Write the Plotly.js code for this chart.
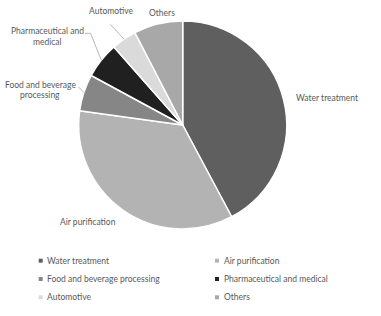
<!DOCTYPE html>
<html>
<head>
<meta charset="utf-8">
<script src="https://cdn.plot.ly/plotly-3.0.1.min.js"></script>
<style>html,body{margin:0;padding:0;background:#fff;}#chart{width:381px;height:316px;}</style>
</head>
<body>
<div id="chart"></div>
<script>
// ---- data ----
const categories = ["Water treatment", "Air purification", "Food and beverage processing", "Pharmaceutical and medical", "Automotive", "Others"];
const sliceLabelLines = [["Water treatment"], ["Air purification"], ["Food and beverage", "processing"], ["Pharmaceutical and", "medical"], ["Automotive"], ["Others"]];
const shares = [42.2, 35.0, 5.7, 5.6, 3.9, 7.6];

// ---- style ----
const colors = ["#5f5f5f", "#b3b3b3", "#868686", "#202020", "#dadada", "#a8a8a8"];
const W = 381, H = 316;
const CX = 182.7, CY = 125, R = 104;
const FONT = "Lato, 'Open Sans', sans-serif";
const TXT = "#595959";
const LINE_H = 10.8;
// label offsets from slice-edge midpoint (px), anchors, optional leader line points (relative to edge)
const labelStyle = [
  {dx: 10.4, dy: -1.8, anchor: "left", line: null},
  {dx: -35, dy: 12, anchor: "center", line: null},
  {dx: -43.4, dy: -2.6, anchor: "center", line: [[-5.4, -5.6]]},
  {dx: -53.8, dy: -23.6, anchor: "center", line: [[-16.3, -26.9], [-10.8, -26.9]]},
  {dx: -13, dy: -28, anchor: "center", line: [[-13.5, -14.7]]},
  {dx: 3.9, dy: -10.6, anchor: "center", line: null}
];

const px = x => x / W;
const py = y => 1 - y / H;

const total = shares.reduce((a, b) => a + b, 0);
const annotations = [];
const shapes = [];
let cum = 0;
shares.forEach((v, i) => {
  const mid = (cum + v / 2) / total * 2 * Math.PI;
  cum += v;
  const ex = CX + R * Math.sin(mid);
  const ey = CY - R * Math.cos(mid);
  const st = labelStyle[i];
  const lines = sliceLabelLines[i];
  lines.forEach((t, k) => {
    const yy = ey + st.dy + (k - (lines.length - 1) / 2) * LINE_H;
    annotations.push({
      xref: "paper", yref: "paper",
      x: px(ex + st.dx), y: py(yy),
      xanchor: st.anchor, yanchor: "middle",
      text: t, showarrow: false,
      font: {family: FONT, size: 8.5, color: TXT}
    });
  });
  if (st.line) {
    let d = "";
    st.line.forEach((p, k) => {
      d += (k === 0 ? "M" : "L") + px(ex + p[0]) + "," + py(ey + p[1]) + " ";
    });
    d += "L" + px(ex) + "," + py(ey);
    shapes.push({type: "path", xref: "paper", yref: "paper", path: d,
      line: {color: "#a6a6a6", width: 0.8}});
  }
});

// custom legend: 2 columns x 3 rows
const legCols = [40.7, 217];
const legRows = [260.7, 279, 297.3];
const sw = 4;
categories.forEach((c, i) => {
  const cx = legCols[i % 2], cy = legRows[Math.floor(i / 2)];
  shapes.push({type: "rect", xref: "paper", yref: "paper",
    x0: px(cx - sw / 2), x1: px(cx + sw / 2), y0: py(cy + sw / 2), y1: py(cy - sw / 2),
    fillcolor: colors[i], line: {width: 0}});
  annotations.push({xref: "paper", yref: "paper", x: px(cx + 4.5), y: py(cy),
    xanchor: "left", yanchor: "middle", text: c, showarrow: false,
    font: {family: FONT, size: 8.5, color: TXT}});
});

const trace = {
  type: "pie",
  values: shares,
  labels: categories,
  sort: false,
  direction: "clockwise",
  rotation: 0,
  textinfo: "none",
  hoverinfo: "none",
  marker: {colors: colors, line: {color: "#ffffff", width: 1.5}},
  domain: {x: [(CX - R) / W, (CX + R) / W], y: [1 - (CY + R) / H, 1 - (CY - R) / H]},
  showlegend: false
};

const layout = {
  width: W, height: H,
  margin: {l: 0, r: 0, t: 0, b: 0},
  paper_bgcolor: "#ffffff",
  showlegend: false,
  annotations: annotations,
  shapes: shapes,
  font: {family: FONT}
};

Plotly.newPlot("chart", [trace], layout, {displayModeBar: false, staticPlot: true});
</script>
</body>
</html>
